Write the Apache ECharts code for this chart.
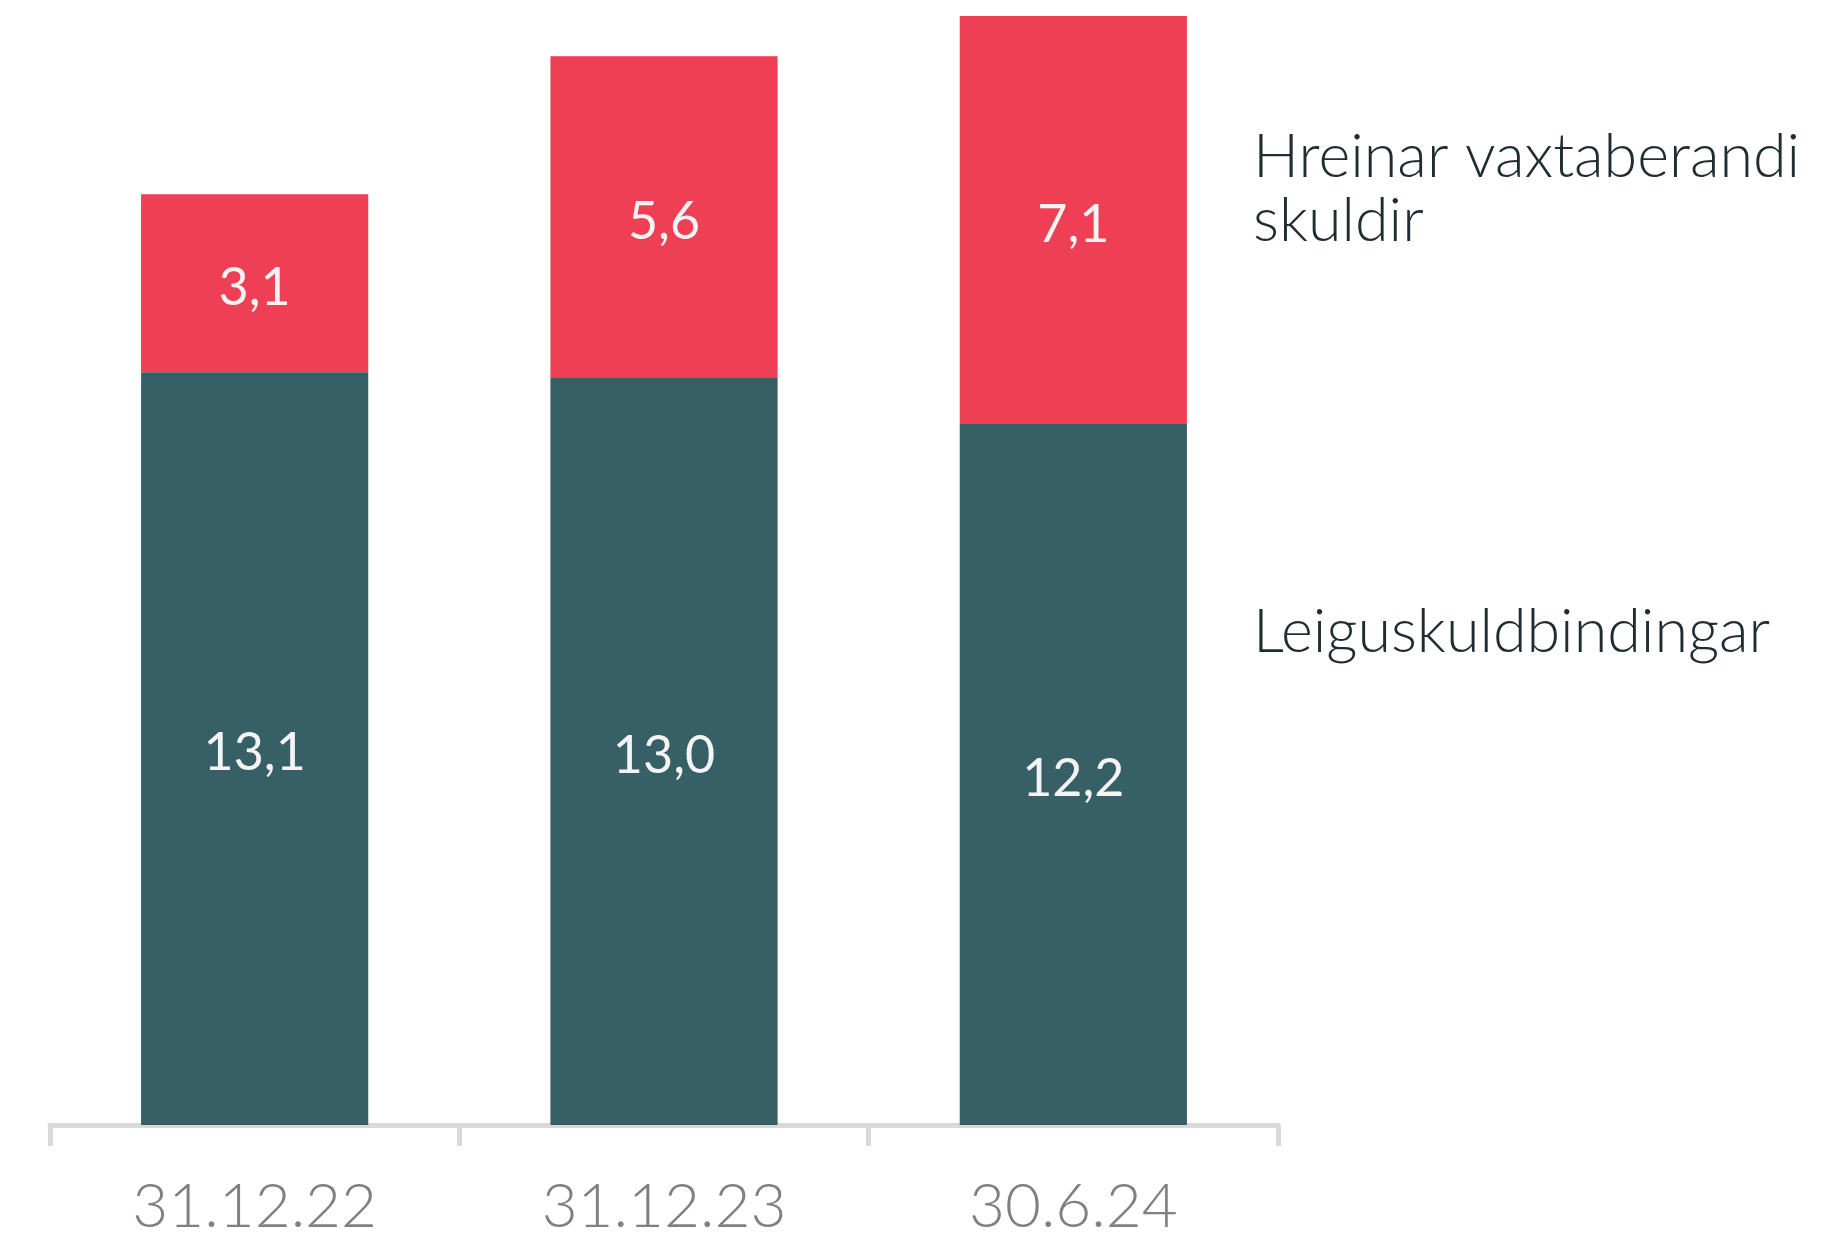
<!DOCTYPE html>
<html>
<head>
<meta charset="UTF-8">
<title></title>
<style>
  html, body { margin: 0; padding: 0; background: #fff; }
  #main { width: 1829px; height: 1240px; }
</style>
</head>
<body>
<div id="main"></div>
<script src="https://cdn.jsdelivr.net/npm/echarts@6/dist/echarts.min.js"></script>
<script>
// dagsetningar
var categories = ['31.12.22', '31.12.23', '30.6.24'];
// heiti raða
var seriesNames = ['Leiguskuldbindingar', 'Hreinar vaxtaberandi\nskuldir'];
// gildi
var leigu = [13.1, 13.0, 12.2];
var hreinar = [3.1, 5.6, 7.1];

var font = 'Lato';

function fmt(p) {
  return p.value.toFixed(1).replace('.', ',');
}

var myChart = echarts.init(document.getElementById('main'));
var option = {
  animation: false,
  grid: {
    left: 50,
    right: 551,
    top: 16,
    bottom: 115
  },
  xAxis: {
    type: 'category',
    data: categories,
    offset: 3,
    axisLine: {
      lineStyle: { color: '#d9d9d9', width: 5 }
    },
    axisTick: {
      show: true,
      alignWithLabel: false,
      interval: 0,
      length: 21,
      lineStyle: { color: '#d9d9d9', width: 5 }
    },
    axisLabel: {
      margin: 48,
      fontFamily: font,
      fontWeight: 300,
      fontSize: 62,
      color: '#808080'
    }
  },
  yAxis: {
    type: 'value',
    show: false,
    min: 0,
    max: 'dataMax'
  },
  series: [{
    name: seriesNames[0],
    type: 'bar',
    stack: 'total',
    barWidth: '55.5%',
    itemStyle: { color: '#365f66' },
    label: {
      show: true,
      position: 'inside',
      offset: [0, 5],
      formatter: fmt,
      fontFamily: font,
      fontSize: 52,
      color: '#f4f4f4'
    },
    data: leigu
  }, {
    name: seriesNames[1],
    type: 'bar',
    stack: 'total',
    barWidth: '55.5%',
    itemStyle: { color: '#ef3f55' },
    label: {
      show: true,
      position: 'inside',
      offset: [0, 5],
      formatter: fmt,
      fontFamily: font,
      fontSize: 52,
      color: '#f4f4f4'
    },
    data: hreinar
  }],
  graphic: [{
    type: 'text',
    left: 1253,
    top: 125,
    style: {
      text: seriesNames[1],
      fontFamily: font,
      fontWeight: 300,
      fontSize: 61,
      lineHeight: 64,
      fill: '#1f2d33'
    }
  }, {
    type: 'text',
    left: 1253,
    top: 600,
    style: {
      text: seriesNames[0],
      fontFamily: font,
      fontWeight: 300,
      fontSize: 61,
      lineHeight: 64,
      fill: '#1f2d33'
    }
  }]
};
myChart.setOption(option);
</script>
</body>
</html>
